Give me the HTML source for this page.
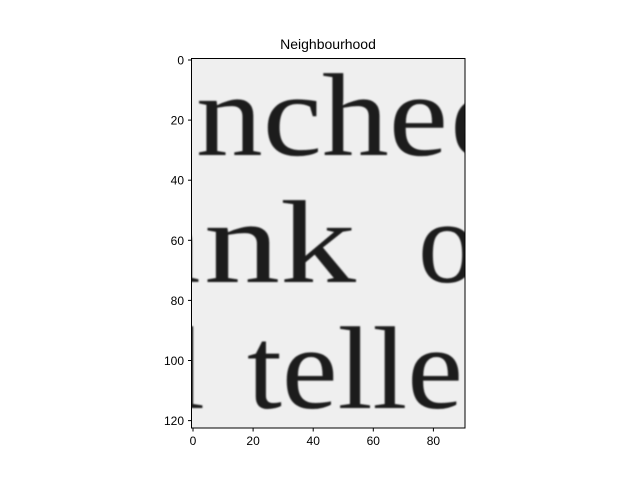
<!DOCTYPE html>
<html><head><meta charset="utf-8"><style>
body{margin:0;background:#fff;}
svg{display:block;font-family:"Liberation Sans",sans-serif;}
</style></head><body>
<svg width="640" height="480" viewBox="0 0 640 480">
<defs>
<clipPath id="clip"><rect x="191.5" y="58.5" width="273.5" height="369.5"/></clipPath>
<filter id="blur"><feGaussianBlur stdDeviation="0.9"/></filter>
</defs>
<rect width="640" height="480" fill="#fff"/>
<text x="328" y="49" font-size="14" text-anchor="middle" fill="#000">Neighbourhood</text>
<g clip-path="url(#clip)">
<rect x="191.5" y="58.5" width="273.5" height="369.5" fill="#efefef"/>
<g filter="url(#blur)" font-family="'Liberation Serif',serif" font-size="118" fill="#1a1a1a">
<text x="140" y="155" textLength="52" lengthAdjust="spacingAndGlyphs">u</text>
<text x="196" y="155" textLength="252" lengthAdjust="spacingAndGlyphs">nche</text>
<text x="451" y="155">d</text>
<text x="150" y="282" textLength="50" lengthAdjust="spacingAndGlyphs">a</text>
<text x="204" y="282" textLength="152" lengthAdjust="spacingAndGlyphs">nk</text>
<text x="418" y="282">o</text>
<text x="172" y="408">l</text>
<text x="247" y="408" textLength="216" lengthAdjust="spacingAndGlyphs">telle</text>
<text x="464" y="408">r</text>
</g>
</g>
<rect x="191.5" y="58.5" width="273.5" height="369.5" fill="none" stroke="#000" stroke-width="1"/>
<g id="ticks" font-size="12" fill="#000"></g>
<script>
const xTicks=[0,20,40,60,80];
const yTicks=[0,20,40,60,80,100,120];
const x0=191.5,y0=58.5,s=3.005;
const g=document.getElementById('ticks');
const ns='http://www.w3.org/2000/svg';
function X(v){return x0+(v+0.5)*s;}
function Y(v){return y0+(v+0.5)*s;}
xTicks.forEach(v=>{
 const l=document.createElementNS(ns,'line');
 l.setAttribute('x1',X(v));l.setAttribute('x2',X(v));l.setAttribute('y1',428);l.setAttribute('y2',431.5);l.setAttribute('stroke','#000');
 
 
 g.appendChild(l);
 const t=document.createElementNS(ns,'text');
 t.setAttribute('x',X(v));t.setAttribute('y',445);t.setAttribute('text-anchor','middle');t.textContent=v;
 
 
 g.appendChild(t);
});
yTicks.forEach(v=>{
 const l=document.createElementNS(ns,'line');
 l.setAttribute('x1',188);l.setAttribute('x2',191.5);l.setAttribute('y1',Y(v));l.setAttribute('y2',Y(v));l.setAttribute('stroke','#000');
 
 
 g.appendChild(l);
 const t=document.createElementNS(ns,'text');
 t.setAttribute('x',184);t.setAttribute('y',Y(v)+4.5);t.setAttribute('text-anchor','end');t.textContent=v;
 
 
 g.appendChild(t);
});
</script>
</svg>
</body></html>
